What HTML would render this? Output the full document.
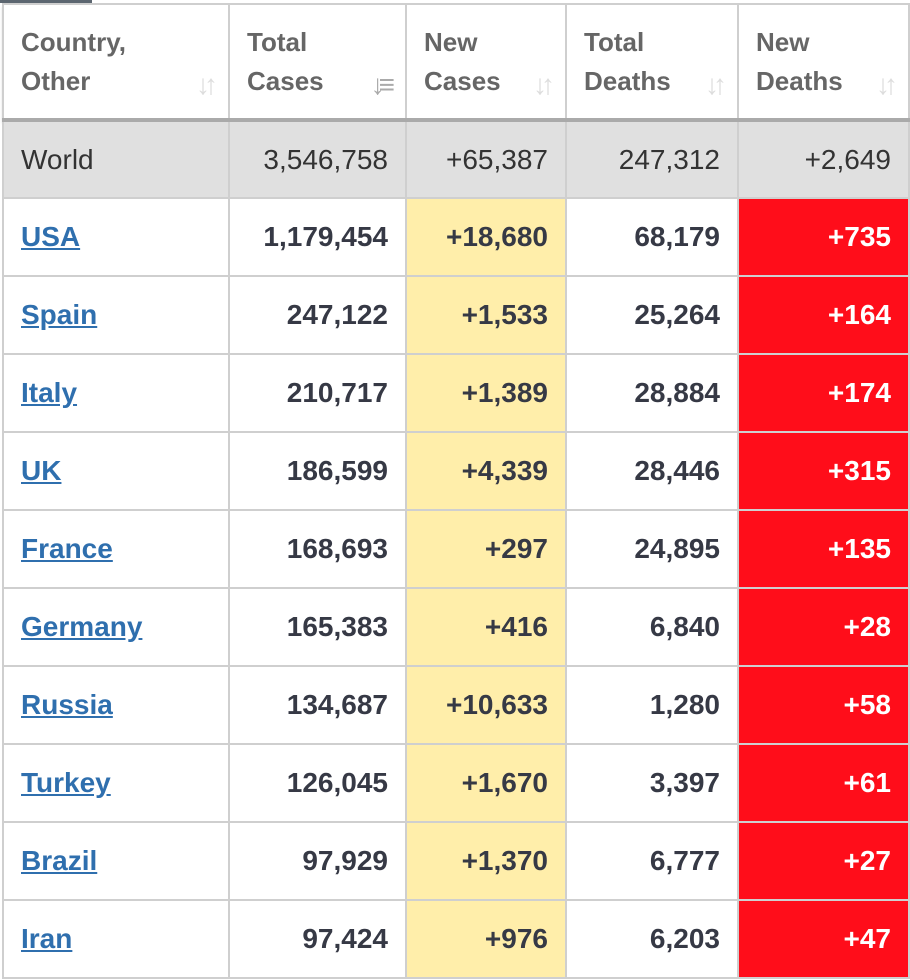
<!DOCTYPE html>
<html><head><meta charset="utf-8"><style>
body{margin:0;width:910px;height:980px;background:#fff;overflow:hidden;font-family:"Liberation Sans",Arial,sans-serif}
.tab{position:absolute;left:0;top:0;width:92px;height:3px;background:#5c6670}
table{position:absolute;left:2px;top:3px;border-collapse:collapse;table-layout:fixed}
td,th{border:2px solid #cfcfcf;padding:0 17px;box-sizing:border-box}
th{height:116px;text-align:left;color:#666;font-size:26px;font-weight:bold;line-height:39px;position:relative;vertical-align:middle;padding-top:0}
th .ic{position:absolute;right:16px;top:60px;color:#ddd;font-size:28px;font-weight:bold;letter-spacing:-6px}
th .ic.act{color:#aaa}
tr.hd{box-shadow:0 3px 3px rgba(0,0,0,.25)}
tr.world td{background:#e0e0e0;color:#333;font-weight:normal;height:78px;border-top:4px solid #aaa}
td{height:78px;font-size:28px;font-weight:bold;color:#363945;text-align:right}
td.c{text-align:left}
td.c a{color:#2f6fae;text-decoration:underline}
td.nc{background:#ffeeaa}
td.nd{background:#ff0d1a;color:#fff}
</style></head><body>
<div class="tab"></div>
<table>
<colgroup><col style="width:226px"><col style="width:177px"><col style="width:160px"><col style="width:172px"><col style="width:171px"></colgroup>
<tr class="hd">
<th>Country,<br>Other<span class="ic">↓↑</span></th>
<th>Total<br>Cases<span class="ic act">↓≡</span></th>
<th>New<br>Cases<span class="ic">↓↑</span></th>
<th>Total<br>Deaths<span class="ic">↓↑</span></th>
<th>New<br>Deaths<span class="ic">↓↑</span></th>
</tr>
<tr class="world">
<td class="c">World</td>
<td>3,546,758</td>
<td>+65,387</td>
<td>247,312</td>
<td>+2,649</td>
</tr>
<tr><td class="c"><a>USA</a></td><td>1,179,454</td><td class="nc">+18,680</td><td>68,179</td><td class="nd">+735</td></tr>
<tr><td class="c"><a>Spain</a></td><td>247,122</td><td class="nc">+1,533</td><td>25,264</td><td class="nd">+164</td></tr>
<tr><td class="c"><a>Italy</a></td><td>210,717</td><td class="nc">+1,389</td><td>28,884</td><td class="nd">+174</td></tr>
<tr><td class="c"><a>UK</a></td><td>186,599</td><td class="nc">+4,339</td><td>28,446</td><td class="nd">+315</td></tr>
<tr><td class="c"><a>France</a></td><td>168,693</td><td class="nc">+297</td><td>24,895</td><td class="nd">+135</td></tr>
<tr><td class="c"><a>Germany</a></td><td>165,383</td><td class="nc">+416</td><td>6,840</td><td class="nd">+28</td></tr>
<tr><td class="c"><a>Russia</a></td><td>134,687</td><td class="nc">+10,633</td><td>1,280</td><td class="nd">+58</td></tr>
<tr><td class="c"><a>Turkey</a></td><td>126,045</td><td class="nc">+1,670</td><td>3,397</td><td class="nd">+61</td></tr>
<tr><td class="c"><a>Brazil</a></td><td>97,929</td><td class="nc">+1,370</td><td>6,777</td><td class="nd">+27</td></tr>
<tr><td class="c"><a>Iran</a></td><td>97,424</td><td class="nc">+976</td><td>6,203</td><td class="nd">+47</td></tr>
</table>
</body></html>
